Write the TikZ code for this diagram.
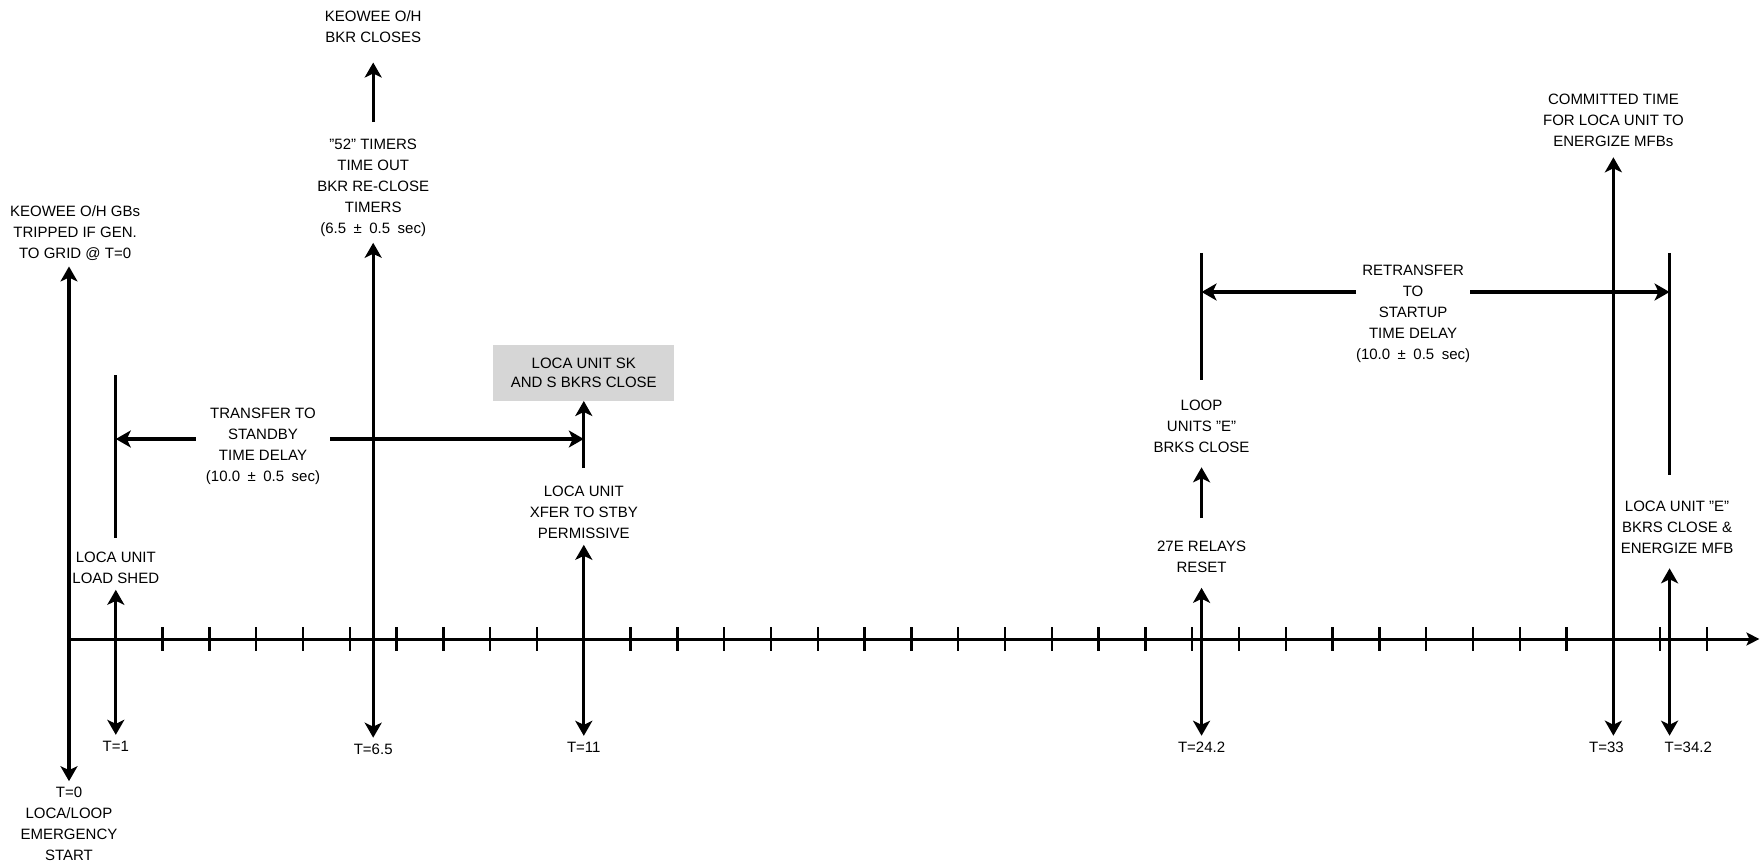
\documentclass[tikz,border=0pt]{standalone}
\usepackage{fontspec}
\setmainfont{Liberation Sans}
\usetikzlibrary{arrows.meta,positioning}
\begin{document}
\begin{tikzpicture}[
  x=46.8pt,y=-1pt,
  font=\fontsize{15pt}{21pt}\selectfont,
  lbl/.style={align=center,inner sep=6pt,outer sep=0pt},
  tlbl/.style={inner sep=6pt,outer sep=0pt},
  arr/.style={line width=3.2pt,-{Stealth[length=15pt,width=17pt,inset=4pt]}},
  dbl/.style={line width=3.2pt,{Stealth[length=15pt,width=17pt,inset=4pt]}-{Stealth[length=15pt,width=17pt,inset=4pt]}},
  bar/.style={line width=3.2pt},
  timeaxis/.style={line width=3pt,-{Stealth[length=13pt,width=13pt,inset=3pt]}},
  tickmark/.style={line width=2.4pt},
  skbox/.style={fill=black!16,minimum width=181pt,minimum height=56pt,inner sep=0pt,outer sep=0pt,align=center,font=\fontsize{15pt}{19pt}\selectfont}]
\useasboundingbox (-1.4744,0) rectangle (36.154,864);
\coordinate (t0) at (0,639);
\coordinate (tend) at (36.12,639);
\draw[timeaxis] (t0) -- (tend);
\foreach \k in {2,...,35} \draw[tickmark] (\k,627) -- (\k,651);
\node[lbl] (kgb) at (0.13,233) {KEOWEE O/H GBs\\TRIPPED IF GEN.\\TO GRID @ T=0};
\node[lbl] (start) at (0,824) {T=0\\LOCA/LOOP\\EMERGENCY\\START};
\draw[dbl] (kgb.south -| start) -- (start);
\coordinate (b1) at (1,375);
\node[lbl] (shed) at (1,568) {LOCA UNIT\\LOAD SHED};
\node[tlbl] (lt1) at (1,746) {T=1};
\draw[bar,shorten >=8pt] (b1) -- (shed);
\draw[dbl] (shed) -- (lt1);
\node[lbl] (ohbkr) at (6.5,26.5) {KEOWEE O/H\\BKR CLOSES};
\node[lbl] (timers) at (6.5,188) {"52" TIMERS\\TIME OUT\\BKR RE-CLOSE\\TIMERS\\(6.5\enspace±\enspace0.5\enspace sec)};
\node[tlbl] (lt65) at (6.5,749) {T=6.5};
\draw[arr,shorten <=11pt,shorten >=14pt] (timers) -- (ohbkr);
\draw[dbl] (timers) -- (lt65);
\node[skbox] (sk) at (11,373) {LOCA UNIT SK\\AND S BKRS CLOSE};
\node[lbl] (xfer) at (11,512.5) {LOCA UNIT\\XFER TO STBY\\PERMISSIVE};
\node[tlbl] (lt11) at (11,747) {T=11};
\draw[arr,shorten <=12pt] (xfer) -- (sk);
\draw[dbl] (xfer) -- (lt11);
\node[lbl,inner xsep=10pt] (tfr) at (4.145,446.6) {TRANSFER TO\\STANDBY\\TIME DELAY\\(10.0\enspace±\enspace0.5\enspace sec)};
\coordinate (tfry) at (4.145,439);
\draw[arr] (tfry -| tfr.west) -- (tfry -| b1);
\draw[arr] (tfry -| tfr.east) -- (tfry -| sk);
\coordinate (b242) at (24.2,253);
\coordinate (b342) at (34.2,253);
\node[lbl] (loop) at (24.2,426) {LOOP\\UNITS "E"\\BRKS CLOSE};
\node[lbl] (relay) at (24.2,557) {27E RELAYS\\RESET};
\node[tlbl] (lt242) at (24.2,747) {T=24.2};
\draw[bar,shorten >=14pt] (b242) -- (loop);
\draw[arr,shorten <=17pt,shorten >=9pt] (relay) -- (loop);
\draw[dbl,shorten <=9pt] (relay) -- (lt242);
\node[lbl,inner xsep=0pt] (rtf) at (28.72,314) {RETRANSFER\\TO\\STARTUP\\TIME DELAY\\(10.0\enspace±\enspace0.5\enspace sec)};
\coordinate (rtfy) at (28.72,292);
\draw[arr] (rtfy -| rtf.west) -- (rtfy -| b242);
\draw[arr] (rtfy -| rtf.east) -- (rtfy -| b342);
\node[lbl] (cmt) at (33,120) {COMMITTED TIME\\FOR LOCA UNIT TO\\ENERGIZE MFBs};
\node[tlbl] (lt33) at (32.85,747) {T=33};
\draw[dbl,shorten <=5pt] (cmt) -- (lt33.north -| cmt);
\node[lbl] (lue) at (34.36,527) {LOCA UNIT "E"\\BKRS CLOSE \&\\ENERGIZE MFB};
\node[tlbl] (lt342) at (34.6,747) {T=34.2};
\draw[bar,shorten >=20pt] (b342) -- (lue.north -| b342);
\draw[dbl,shorten <=9pt] (lue.south -| b342) -- (lt342.north -| b342);
\end{tikzpicture}
\end{document}
